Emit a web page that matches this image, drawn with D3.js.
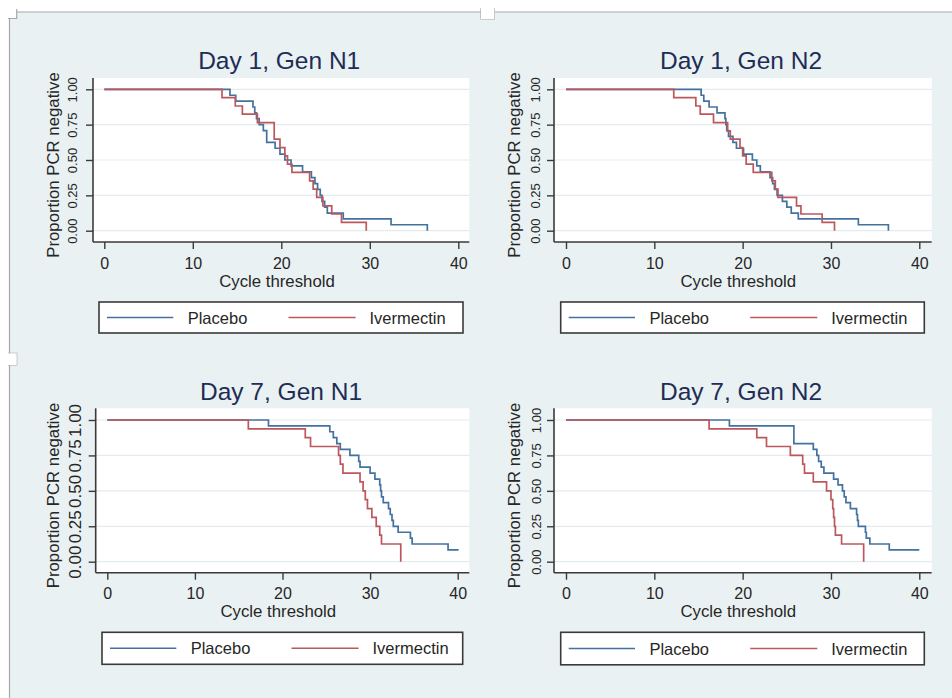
<!DOCTYPE html>
<html><head><meta charset="utf-8">
<script src="https://cdn.jsdelivr.net/npm/d3@7"></script>
<style>
body{margin:0;background:#ffffff}
svg{display:block}
text{font-family:"Liberation Sans",Arial,Helvetica,sans-serif}
</style>
</head><body>
<svg id="chart" width="952" height="698"></svg>
<script>
// ---------- data ----------
const xTicks = [0, 10, 20, 30, 40];
const yTicks = [0, 0.25, 0.5, 0.75, 1];
const seriesNames = ["Placebo", "Ivermectin"];
const panelTitles = ["Day 1, Gen N1", "Day 1, Gen N2", "Day 7, Gen N1", "Day 7, Gen N2"];
const xTitle = "Cycle threshold";
const yTitle = "Proportion PCR negative";

// Day 1, Gen N1
const d1n1PlaceboCt   = [0, 14.2, 14.85, 16.8, 17.0, 17.2, 17.5, 17.97, 18.35, 19.3, 19.85, 20.4, 21.1, 22.4, 23.4, 23.8, 24.1, 24.4, 24.6, 24.9, 25.2, 27.0, 32.4, 36.5];
const d1n1PlaceboSurv = [1, .958, .917, .875, .833, .792, .750, .708, .625, .583, .542, .500, .458, .417, .375, .333, .292, .250, .208, .167, .125, .083, .042, 0];
const d1n1IverCt      = [0, 13.3, 14.8, 15.6, 17.3, 19.2, 19.85, 20.4, 20.7, 21.2, 23.2, 23.6, 24.0, 24.7, 25.7, 26.8, 29.6];
const d1n1IverSurv    = [1, .941, .882, .824, .765, .647, .588, .529, .471, .412, .353, .294, .235, .176, .118, .059, 0];

// Day 1, Gen N2
const d1n2PlaceboCt   = [0, 15.3, 15.6, 16.2, 17.1, 18.0, 18.1, 18.2, 18.4, 18.9, 19.3, 20.1, 21.1, 21.6, 22.0, 23.1, 23.4, 23.6, 23.9, 24.5, 25.0, 25.5, 26.3, 33.1, 36.5];
const d1n2PlaceboSurv = [1, .958, .917, .875, .833, .792, .750, .708, .667, .625, .583, .542, .500, .458, .417, .375, .333, .292, .250, .208, .167, .125, .083, .042, 0];
const d1n2IverCt      = [0, 12.2, 14.7, 15.2, 16.7, 18.3, 18.6, 19.7, 20.0, 20.4, 21.2, 23.3, 23.7, 24.0, 26.1, 26.6, 29.0, 30.4];
const d1n2IverSurv    = [1, .941, .882, .824, .765, .706, .647, .588, .529, .471, .412, .353, .294, .235, .176, .118, .059, 0];

// Day 7, Gen N1
const d7n1PlaceboCt   = [0, 18.4, 25.4, 25.8, 26.2, 26.6, 27.7, 28.7, 28.85, 30.0, 30.55, 31.1, 31.2, 31.3, 31.5, 32.1, 32.3, 32.5, 32.65, 33.2, 34.6, 34.8, 38.9, 40.1];
const d7n1PlaceboSurv = [1, .958, .917, .875, .833, .792, .750, .708, .667, .625, .583, .542, .500, .458, .417, .375, .333, .292, .250, .208, .167, .125, .083, .083];
const d7n1IverCt      = [0, 16.1, 22.6, 23.2, 26.4, 26.6, 26.9, 28.85, 29.2, 29.45, 29.7, 30.2, 30.7, 31.1, 31.3, 33.5];
const d7n1IverSurv    = [1, .938, .875, .813, .750, .688, .625, .563, .500, .438, .375, .313, .250, .188, .125, 0];

// Day 7, Gen N2
const d7n2PlaceboCt   = [0, 18.5, 25.8, 28.0, 28.4, 28.6, 28.9, 29.2, 30.3, 30.8, 31.3, 31.5, 31.7, 32.2, 32.9, 33.0, 33.1, 33.9, 34.0, 34.4, 36.6, 40.0];
const d7n2PlaceboSurv = [1, .958, .833, .792, .750, .708, .667, .625, .583, .542, .500, .458, .417, .375, .333, .292, .250, .208, .167, .125, .083, .083];
const d7n2IverCt      = [0, 16.2, 21.6, 22.7, 25.4, 26.8, 27.0, 28.0, 29.5, 30.0, 30.2, 30.3, 30.4, 30.5, 31.2, 33.7];
const d7n2IverSurv    = [1, .938, .875, .813, .750, .688, .625, .563, .500, .438, .375, .313, .250, .188, .125, 0];

// ---------- layout / style ----------
const colors = {placebo: "#44729f", iver: "#bc585d"};
const bgColor = "#eaf1f3";
const gridColor = "#e3ebee";
const axisColor = "#3a3a3a";
const titleColor = "#1e2d55";
const textColor = "#262626";

const zip = (a, b) => a.map((v, i) => [v, b[i]]);

const panels = [
  {title: panelTitles[0], placebo: zip(d1n1PlaceboCt, d1n1PlaceboSurv), iver: zip(d1n1IverCt, d1n1IverSurv),
   g: {left: 93, right: 469.3, top: 78, bottom: 242, xr: [104.3, 458.3], yr: [230.7, 89.3],
       titleX: 279.2, titleY: 69, xTickY: 269, xTitleX: 277, xTitleY: 287, yTitleX: 58.5, yTitleY: 165,
       yTickX: 77.3, yTickFont: 13, legend: {x: 99, y: 302, w: 364, h: 31}}},
  {title: panelTitles[1], placebo: zip(d1n2PlaceboCt, d1n2PlaceboSurv), iver: zip(d1n2IverCt, d1n2IverSurv),
   g: {left: 554, right: 931.7, top: 78, bottom: 242, xr: [566, 919.3], yr: [230.7, 89.3],
       titleX: 741, titleY: 69, xTickY: 269, xTitleX: 738.3, xTitleY: 287, yTitleX: 520, yTitleY: 165,
       yTickX: 540, yTickFont: 13, legend: {x: 560.7, y: 302, w: 363.6, h: 31}}},
  {title: panelTitles[2], placebo: zip(d7n1PlaceboCt, d7n1PlaceboSurv), iver: zip(d7n1IverCt, d7n1IverSurv),
   g: {left: 95.7, right: 469.3, top: 408.3, bottom: 572.7, xr: [107.3, 457.7], yr: [561.7, 420],
       titleX: 281, titleY: 400, xTickY: 599.3, xTitleX: 278.3, xTitleY: 617.3, yTitleX: 58.5, yTitleY: 495.5,
       yTickX: 80.7, yTickFont: 17, legend: {x: 102, y: 632.3, w: 360.7, h: 32}}},
  {title: panelTitles[3], placebo: zip(d7n2PlaceboCt, d7n2PlaceboSurv), iver: zip(d7n2IverCt, d7n2IverSurv),
   g: {left: 554, right: 931.7, top: 408.3, bottom: 572.7, xr: [566, 919.3], yr: [561.7, 420],
       titleX: 741, titleY: 400, xTickY: 599.3, xTitleX: 738.3, xTitleY: 617.3, yTitleX: 520, yTitleY: 495.5,
       yTickX: 540.5, yTickFont: 13, legend: {x: 560.7, y: 632.3, w: 363.6, h: 32.5}}}
];

const svg = d3.select("#chart");

// ---------- page background (document frame) ----------
svg.append("rect").attr("x", 0).attr("y", 0).attr("width", 952).attr("height", 698).attr("fill", "#ffffff");
svg.append("rect").attr("x", 9.5).attr("y", 12).attr("width", 952 - 9.5).attr("height", 698 - 12).attr("fill", bgColor);
svg.append("rect").attr("x", 9.5).attr("y", 12).attr("width", 7.2).attr("height", 6.5).attr("fill", "#ffffff");
const frame = svg.append("g").attr("fill", "none").attr("stroke", "#a8a8a8").attr("stroke-width", 1.2);
frame.append("path").attr("d", "M16.7,12 H952");
frame.append("path").attr("d", "M16.7,9 V18.5 H8 M9.5,18.5 V698");
// top notch
svg.append("rect").attr("x", 481).attr("y", 8).attr("width", 13.3).attr("height", 11).attr("fill", "#ffffff");
frame.append("path").attr("d", "M481,8 V19 H494.3 V8");
// left notch
svg.append("rect").attr("x", 8).attr("y", 353.3).attr("width", 8.7).attr("height", 11.7).attr("fill", "#ffffff");
frame.append("path").attr("d", "M8,353.3 H16.7 V365 H8");

// ---------- panels ----------
panels.forEach(p => {
  const g = p.g;
  const x = d3.scaleLinear().domain([0, 40]).range(g.xr);
  const y = d3.scaleLinear().domain([0, 1]).range(g.yr);
  const gp = svg.append("g");

  // plot region
  gp.append("rect").attr("x", g.left).attr("y", g.top)
    .attr("width", g.right - g.left).attr("height", g.bottom - g.top).attr("fill", "#ffffff");

  // gridlines
  gp.append("g").selectAll("line").data(yTicks).join("line")
    .attr("x1", g.left).attr("x2", g.right)
    .attr("y1", d => y(d)).attr("y2", d => y(d))
    .attr("stroke", gridColor).attr("stroke-width", 1.2);

  // x axis
  const xAxis = d3.axisBottom(x).tickValues(xTicks).tickSize(7).tickPadding(0).tickFormat(d3.format("d"));
  const gx = gp.append("g").attr("transform", `translate(0,${g.bottom})`).call(xAxis);
  gx.select(".domain").remove();
  gx.selectAll(".tick line").attr("stroke", axisColor).attr("stroke-width", 1.4);
  gx.selectAll(".tick text").attr("y", g.xTickY - g.bottom).attr("dy", null)
    .attr("font-size", 16).attr("fill", textColor)
    .style("font-family", '"Liberation Sans", Arial, sans-serif');
  gp.append("line").attr("x1", g.left).attr("x2", g.right).attr("y1", g.bottom).attr("y2", g.bottom)
    .attr("stroke", axisColor).attr("stroke-width", 1.6);

  // y axis
  const yAxis = d3.axisLeft(y).tickValues(yTicks).tickSize(7).tickFormat(d3.format(".2f"));
  const gy = gp.append("g").attr("transform", `translate(${g.left},0)`).call(yAxis);
  gy.select(".domain").remove();
  gy.selectAll(".tick line").attr("stroke", axisColor).attr("stroke-width", 1.4);
  gy.selectAll(".tick text")
    .attr("x", null).attr("dy", null).attr("text-anchor", "middle")
    .attr("transform", `translate(${g.yTickX - g.left},0) rotate(-90)`)
    .attr("font-size", g.yTickFont).attr("fill", textColor)
    .style("font-family", '"Liberation Sans", Arial, sans-serif');
  gp.append("line").attr("x1", g.left).attr("x2", g.left).attr("y1", g.top).attr("y2", g.bottom)
    .attr("stroke", axisColor).attr("stroke-width", 1.6);

  // titles
  gp.append("text").attr("x", g.titleX).attr("y", g.titleY).attr("text-anchor", "middle")
    .attr("font-size", 24.5).attr("fill", titleColor).text(p.title);
  gp.append("text").attr("x", g.xTitleX).attr("y", g.xTitleY).attr("text-anchor", "middle")
    .attr("font-size", 16.8).attr("fill", textColor).text(xTitle);
  gp.append("text").attr("transform", `translate(${g.yTitleX},${g.yTitleY}) rotate(-90)`)
    .attr("text-anchor", "middle").attr("font-size", 16.8).attr("fill", textColor).text(yTitle);

  // survival step curves
  const line = d3.line().x(d => x(d[0])).y(d => y(d[1])).curve(d3.curveStepAfter);
  gp.append("path").datum(p.placebo).attr("d", line).attr("fill", "none")
    .attr("stroke", colors.placebo).attr("stroke-width", 1.7);
  gp.append("path").datum(p.iver).attr("d", line).attr("fill", "none")
    .attr("stroke", colors.iver).attr("stroke-width", 1.7);

  // legend
  const L = g.legend;
  const gl = gp.append("g").attr("transform", `translate(${L.x},${L.y})`);
  gl.append("rect").attr("width", L.w).attr("height", L.h).attr("fill", "#ffffff")
    .attr("stroke", axisColor).attr("stroke-width", 1.6);
  const cy = L.h / 2;
  const items = [
    {name: seriesNames[0], color: colors.placebo, x1: 8, x2: 74.3, tx: 88.7},
    {name: seriesNames[1], color: colors.iver, x1: 189.5, x2: 256.6, tx: 270.5}
  ];
  items.forEach(it => {
    gl.append("line").attr("x1", it.x1).attr("x2", it.x2).attr("y1", cy).attr("y2", cy)
      .attr("stroke", it.color).attr("stroke-width", 1.6);
    gl.append("text").attr("x", it.tx).attr("y", cy + 6).attr("font-size", 16.5)
      .attr("fill", textColor).text(it.name);
  });
});
</script>
</body></html>
